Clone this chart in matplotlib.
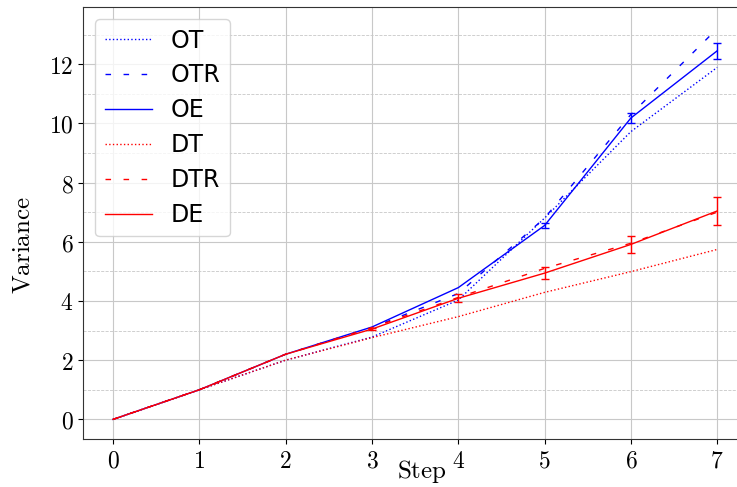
import numpy as np
import matplotlib
matplotlib.use("Agg")
import matplotlib.pyplot as plt
from matplotlib.lines import Line2D
from matplotlib.ticker import FuncFormatter, MultipleLocator

plt.rcParams["mathtext.fontset"] = "cm"

# data
STEPS = [0, 1, 2, 3, 4, 5, 6, 7]

OT = [0, 1.0, 2.0, 2.78, 4.03, 6.8, 9.72, 11.89]
OTR = [0, 1.0, 2.2, 3.1, 4.25, 6.8, 10.3, 13.2]
OE = [0, 1.0, 2.2, 3.12, 4.45, 6.55, 10.18, 12.45]
OE_ERR = [np.nan, np.nan, np.nan, np.nan, np.nan, 0.1, 0.17, 0.27]

DT = [0, 1.0, 2.0, 2.76, 3.47, 4.29, 4.99, 5.74]
DTR = [0, 1.0, 2.2, 3.1, 4.12, 5.1, 5.95, 7.0]
DE = [0, 1.0, 2.2, 3.05, 4.09, 4.94, 5.91, 7.04]
DE_ERR = [np.nan, np.nan, np.nan, 0.04, 0.13, 0.2, 0.29, 0.46]

BLUE = "blue"
RED = "red"
LW = 1.0
DASH = (4, 9)

fig = plt.figure(figsize=(7.37, 4.87), dpi=100)
ax = fig.add_axes([0.113, 0.0986, 0.9017, 0.8864])

ax.plot(STEPS, OT, ":", color=BLUE, lw=LW)
ax.plot(STEPS, OTR, color=BLUE, lw=LW, dashes=DASH)
ax.plot(STEPS, OE, "-", color=BLUE, lw=LW)
ax.errorbar(STEPS, OE, yerr=OE_ERR, fmt="none", ecolor=BLUE,
            elinewidth=LW, capsize=3)
ax.plot(STEPS, DT, ":", color=RED, lw=LW)
ax.plot(STEPS, DTR, color=RED, lw=LW, dashes=DASH)
ax.plot(STEPS, DE, "-", color=RED, lw=LW)
ax.errorbar(STEPS, DE, yerr=DE_ERR, fmt="none", ecolor=RED,
            elinewidth=LW, capsize=3)

ax.set_xlim(-0.345, 7.355)
ax.set_ylim(-0.663, 13.92)

ax.xaxis.set_major_locator(MultipleLocator(1))
ax.yaxis.set_major_locator(MultipleLocator(2))
ax.yaxis.set_minor_locator(MultipleLocator(1))
ax.yaxis.set_tick_params(which="minor", length=0)

fmt = FuncFormatter(lambda v, p: "$%d$" % round(v))
ax.xaxis.set_major_formatter(fmt)
ax.yaxis.set_major_formatter(fmt)
ax.tick_params(axis="both", which="major", labelsize=17)

ax.grid(which="major", color="#c8c8c8", lw=0.8)
ax.grid(which="minor", axis="y", color="#c8c8c8", lw=0.6, ls="--")
ax.set_axisbelow(True)

ax.spines["right"].set_visible(False)
for s in ["left", "top", "bottom"]:
    ax.spines[s].set_color("#333333")

ax.set_xlabel(r"$\mathrm{Step}$", fontsize=18)
ax.set_ylabel(r"$\mathrm{Variance}$", fontsize=18)
ax.xaxis.set_label_coords(0.51, -0.045)
ax.yaxis.set_label_coords(-0.074, 0.449)

handles = [
    Line2D([], [], ls=":", color=BLUE, lw=LW),
    Line2D([], [], color=BLUE, lw=LW, dashes=DASH),
    Line2D([], [], ls="-", color=BLUE, lw=LW),
    Line2D([], [], ls=":", color=RED, lw=LW),
    Line2D([], [], color=RED, lw=LW, dashes=DASH),
    Line2D([], [], ls="-", color=RED, lw=LW),
]
labels = ["OT", "OTR", "OE", "DT", "DTR", "DE"]
ax.legend(handles, labels, loc="upper left", fontsize=17, labelspacing=0.46)

fig.savefig("out.png", dpi=100)
